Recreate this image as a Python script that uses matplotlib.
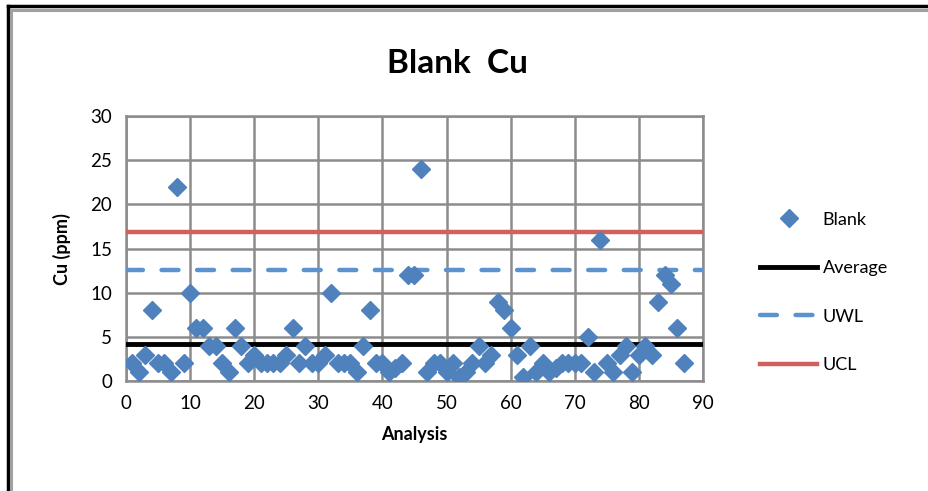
import numpy as np
import matplotlib
matplotlib.use("Agg")
import matplotlib.pyplot as plt
from matplotlib.lines import Line2D

# analysis numbers and blank Cu results (ppm)
analysis = list(range(1, 88))
blank_cu = [2, 1, 3, 8, 2, 2, 1, 22, 2, 10,
            6, 6, 4, 4, 2, 1, 6, 4, 2, 3,
            2, 2, 2, 2, 3, 6, 2, 4, 2, 2,
            3, 10, 2, 2, 2, 1, 4, 8, 2, 2,
            1, 1.5, 2, 12, 12, 24, 1, 2, 2, 1,
            2, 0.5, 1, 2, 4, 2, 3, 9, 8, 6,
            3, 0.5, 4, 1, 2, 1, 1.5, 2, 2, 2,
            2, 5, 1, 16, 2, 1, 3, 4, 1, 3,
            4, 3, 9, 12, 11, 6, 2]

# control limits
average = 4.2
uwl = 12.6
ucl = 16.9
line_x = [0, 90]

plt.rcParams['font.family'] = ['Lato', 'DejaVu Sans']

fig = plt.figure(figsize=(9.29, 4.91), dpi=100)
ax = fig.add_axes([0.1356, 0.224, 0.6211, 0.5393])

grid_col = '#8c8c8c'
blue = '#4f81bd'

ax.plot(analysis, blank_cu, linestyle='none', marker='D', markersize=9.3,
        color=blue, label='Blank', zorder=4)
ax.plot(line_x, [average, average], color='black', linewidth=3.5,
        label='Average', zorder=3)
ax.plot(line_x, [uwl, uwl], color='#5b93cf', linewidth=3.2,
        linestyle=(0, (3.8, 4.2)), dash_capstyle='round', label='UWL', zorder=3)
ax.plot(line_x, [ucl, ucl], color='#cf625c', linewidth=3.2,
        label='UCL', zorder=3)

ax.set_xlim(0, 90)
ax.set_ylim(0, 30)
ax.set_xticks(range(0, 91, 10))
ax.set_yticks(range(0, 31, 5))
ax.grid(True, color=grid_col, linewidth=1.8)
ax.set_axisbelow(True)
for s in ax.spines.values():
    s.set_color(grid_col)
    s.set_linewidth(1.8)
ax.tick_params(length=0, labelsize=13.5, pad=10)

ax.set_xlabel('Analysis', fontsize=13, fontweight='bold', labelpad=10)
ax.set_ylabel('Cu (ppm)', fontsize=13, fontweight='bold', labelpad=14)
fig.text(0.4925, 0.870, 'Blank  Cu', ha='center', va='center',
         fontsize=24, fontweight='bold')

ax.legend(loc='center left', bbox_to_anchor=(1.07, 0.335), frameon=False,
          fontsize=13, labelspacing=1.8, handlelength=3.2, handletextpad=0.3)

# outer frame of the chart
W, H = 929, 491
fig.add_artist(Line2D([8 / W, 8 / W], [0, 1 - 6 / H], color='black', linewidth=2.5))
fig.add_artist(Line2D([8 / W, 1], [1 - 6 / H, 1 - 6 / H], color='black', linewidth=2.5))
fig.add_artist(Line2D([11.5 / W, 11.5 / W], [0, 1 - 10 / H], color='#a0a0a0', linewidth=2.2))
fig.add_artist(Line2D([11.5 / W, 1], [1 - 10 / H, 1 - 10 / H], color='#a0a0a0', linewidth=2.2))

fig.savefig('out.png', dpi=100)
